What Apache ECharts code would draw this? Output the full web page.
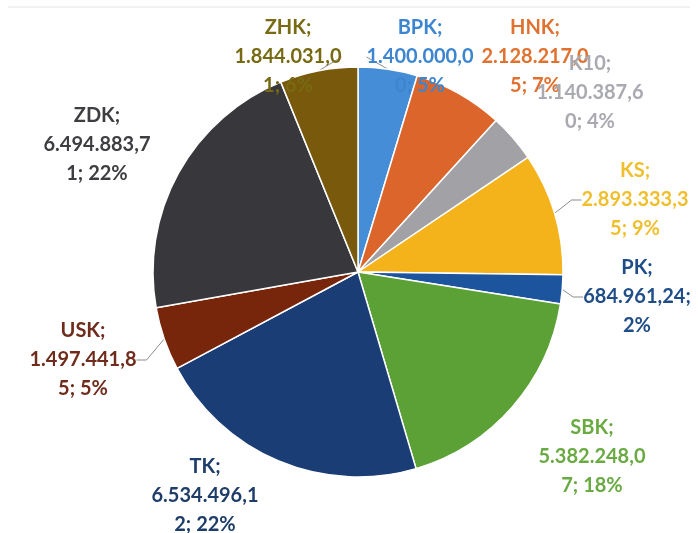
<!DOCTYPE html>
<html lang="en">
<head>
    <meta charset="UTF-8">
    <title>Pie</title>
</head>
<style>
    html, body {
        margin: 0;
        padding: 0;
        background: #fff;
    }
    #pie {
        width: 698px;
        height: 533px;
    }
</style>
<body>
<div id="pie"></div>
</body>
<script src="https://cdn.jsdelivr.net/npm/echarts@6/dist/echarts.min.js"></script>
<script>
    var names = ['BPK', 'HNK', 'K10', 'KS', 'PK', 'SBK', 'TK', 'USK', 'ZDK', 'ZHK'];
    var values = [1400000.00, 2128217.05, 1140387.60, 2893333.35, 684961.24, 5382248.07, 6534496.12, 1497441.85, 6494883.71, 1844031.01];
    // percentages as printed on the chart
    var shownPct = [5, 7, 4, 9, 2, 18, 22, 5, 22, 6];

    var sliceColors = ['#468dd8', '#db652a', '#a2a2a6', '#f4b31a', '#1d549e', '#5ca136', '#1a3d76', '#78260b', '#38383c', '#79590b'];
    var textColors = ['#3c86d0', '#e0712f', '#a9a9b2', '#f0bf2e', '#1f4d88', '#6aaa42', '#1e3d68', '#6f2b1c', '#3e3e42', '#776a12'];
    var labelPos = [[420, 57], [535, 57], [590, 93], [635, 200], [637, 297], [592, 457], [205, 496], [83, 360], [97, 145], [288, 57]];
    var leader = [true, false, false, true, true, false, false, true, false, true];

    function fmt(v) {
        var parts = v.toFixed(2).split('.');
        var intPart = parts[0].replace(/\B(?=(\d{3})+(?!\d))/g, '.');
        return intPart + ',' + parts[1];
    }

    var data = [];
    for (var i = 0; i < names.length; i++) {
        var t = fmt(values[i]) + '; ' + shownPct[i] + '%';
        data.push({
            name: names[i],
            value: values[i],
            itemStyle: {color: sliceColors[i]},
            label: {
                color: textColors[i],
                formatter: names[i] + ';\n' + t.slice(0, 11) + '\n' + t.slice(11).trim()
            },
            labelLine: {show: leader[i]}
        });
    }

    var myChart = echarts.init(document.getElementById('pie'));
    var option = {
        animation: false,
        graphic: [
            {
                type: 'line',
                shape: {x1: 8, y1: 7, x2: 690, y2: 7},
                style: {stroke: '#e2e2e2', lineWidth: 1}
            }
        ],
        series: [{
            type: 'pie',
            center: [358, 272],
            radius: 205,
            startAngle: 90,
            clockwise: true,
            avoidLabelOverlap: false,
            itemStyle: {
                borderColor: '#fff',
                borderWidth: 1.5
            },
            label: {
                show: true,
                position: 'outside',
                fontFamily: 'Lato',
                fontWeight: 'bold',
                fontSize: 20,
                lineHeight: 29,
                align: 'center'
            },
            labelLine: {
                show: false,
                length: 10,
                length2: 10,
                lineStyle: {color: '#8c8c8c', width: 1}
            },
            labelLayout: function (params) {
                var p = labelPos[params.dataIndex];
                return {
                    x: p[0],
                    y: p[1],
                    align: 'center',
                    verticalAlign: 'middle'
                };
            },
            data: data
        }]
    };
    myChart.setOption(option);
</script>
</html>
